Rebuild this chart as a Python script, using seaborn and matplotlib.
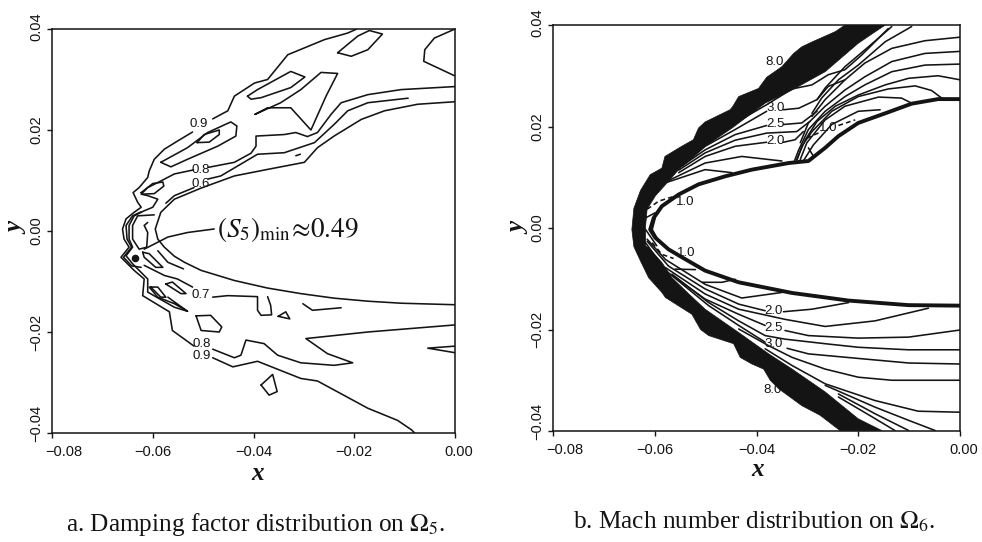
import numpy as np
import matplotlib
matplotlib.use("Agg")
import matplotlib.pyplot as plt
from matplotlib.transforms import ScaledTranslation
import seaborn as sns

# all contour values below are (x, y) in units of 1e-3
# ---------- panel a: damping factor ----------
a_body = [(0,25.6),(-7.4,25.1),(-14,23.8),(-18.6,22.1),(-24,18.8),(-27.3,16.5),(-29.9,13.6),(-37.2,12.2),(-43.8,10.9),(-50.4,8.5),(-55.7,6.3),(-58.4,3.7),(-59.5,0.4),(-59,-1.6),(-57.7,-3.2),(-55.7,-5),(-53.7,-6.2),(-50.4,-7.8),(-43.8,-9.8),(-37.2,-11.3),(-30.6,-12.4),(-24,-13.3),(-17.3,-13.9),(-10.7,-14.3),(0,-14.6)]
a_09_top = [(-48.1,22.2),(-45.1,23.8),(-43.8,26.7),(-39.8,29.3),(-37.2,30),(-33.2,34.9),(-25.9,37.9),(-21.3,39.2),(-19.5,40)]
a_09_left = [(-52.1,19.6),(-55.1,17.8),(-57.7,16.2),(-59.7,14.2),(-60.7,11.9),(-61,10.6),(-62.7,8.6),(-63.9,7.6),(-63,5.7),(-62.3,4.7),(-63.7,3.7),(-65.3,2.4),(-66,0.4),(-65.7,-1.6),(-64.7,-3.2),(-66.3,-5.2),(-63.7,-7.8),(-61.7,-9.5),(-62,-12.8),(-56.7,-16),(-56.1,-19.7),(-51.8,-22.8)]
a_09_low = [(-48.1,-25.1),(-44.1,-26.9),(-39.2,-25.8),(-30.6,-29.2),(-27.3,-29.7),(-17.3,-35.1),(-11.4,-37.5),(-8.6,-39.4),(-8,-40)]
a_08_low = [(-48.1,-23.4),(-43.8,-25.1),(-42.5,-24.6),(-41.5,-21.6),(-37.9,-22.3),(-35.2,-24.6),(-30.6,-26.1),(-24,-26.6),(-20.3,-26.1),(-25.3,-24.3),(-29.6,-21.3),(-17.3,-20),(0,-18.6)]
a_08_top = [(-49,12.6),(-43.8,13.6),(-40.5,15.4),(-39.5,16.8),(-39.5,18.8),(-33.9,19.1),(-31.6,19.5),(-29.3,18.7),(-27.3,19.5),(-24.6,23.1),(-22.6,25.4),(-17.3,27),(-10.7,28),(0,28.6)]
a_08_left = [(-51.9,12.1),(-55.7,11.3),(-58.4,9.9),(-61,8.6),(-62.3,7.3),(-61,7),(-59,6.3),(-60,4.7),(-61.7,4),(-63.7,3),(-64.7,1.1),(-64.7,-1.6),(-64,-3.2),(-65.3,-4.9),(-64,-6.5),(-61,-9.5),(-61,-12.1),(-55.7,-15.1),(-53.1,-15.9)]
a_nose = [(-62.3,3.8),(-64,3),(-65.3,1.1),(-65.1,-1.6),(-64.2,-3.2),(-65.8,-5.2),(-64.2,-6.9),(-62.3,-7.2)]
a_07_nose = [(-59.7,3.2),(-63,3),(-64,1.1),(-64,-1.6),(-62.7,-3.6),(-61.2,-3.2),(-61,-0.3),(-61.7,1.1),(-61,1.7)]
a_06_right = [(-9.3,26.3),(-17.3,25.4),(-21.3,23.8),(-24,21.1),(-27.9,17.5),(-33.9,15.5),(-39.2,15.2),(-46.5,10.9),(-49,10.3)]
a_06_left = [(-51.8,8.6),(-55.7,7),(-57.4,5.5)]
a_tick = [(-31.6,14.9),(-30.7,15.2)]
a_isl1 = [(-58.4,13.6),(-53.1,16.5),(-49.1,19.5),(-44.5,21.6),(-43.3,20.8),(-43.5,18.8),(-47.1,16.8),(-53.1,14.2),(-56.4,12.7),(-58.4,13.6)]
a_isl2 = [(-51.2,17.5),(-49.8,19.1),(-46.8,20),(-46.8,19.1),(-48.8,17.6),(-51.2,17.5)]
a_isl3 = [(-62.3,7.6),(-60,9.4),(-58,9.7),(-57.8,8.9),(-59.7,7.4),(-62,7.3),(-62.3,7.6)]
a_isl4 = [(-41.2,26.7),(-39.2,28),(-32.6,31.6),(-29.8,30.5),(-32.6,28.4),(-38.5,26.4),(-40.5,26.1),(-41.2,26.7)]
a_isl5 = [(-23.3,35.3),(-19.3,38.6),(-17,39.7),(-14.4,39),(-17.3,35.9),(-20.6,34.6),(-23.3,35.3)]
a_wedge = [(-39.7,23.1),(-34.6,25.4),(-30.6,28),(-26.6,31.4),(-23.3,31.2),(-25.6,26.7),(-28.6,20),(-32.6,24.4),(-37.2,24.4),(-39.7,23.1)]
a_corner = [(0,40),(-4.1,38.2),(-6,35.9),(-6.2,33.6),(0,30.7)]
a_callout = [(-61.7,-3.6),(-57,-1.2),(-53.1,-0.3),(-47.8,0.4)]
a_seg1 = [(-59,-3.9),(-57,-6.2),(-53.9,-7.5)]
a_07_left = [(-61.7,-6.8),(-57.7,-8.8),(-55.1,-9.5),(-52.1,-11.1)]
a_07_right = [(-48.1,-13.1),(-45.1,-12.8),(-39.2,-13),(-39.2,-15.7),(-38.5,-16.7),(-36.4,-16.6),(-36.6,-14.7),(-37.2,-13)]
a_seg2 = [(-30.2,-14.4),(-28.3,-15.7),(-22.6,-15.2)]
a_tri = [(-35.1,-16.9),(-33.6,-16),(-32.8,-17.4),(-35.1,-16.9)]
a_q1 = [(-51.4,-16.8),(-48.5,-16.7),(-46.3,-19),(-46.8,-20),(-50.4,-19.7),(-51.4,-16.8)]
a_q2 = [(-38.5,-30.5),(-36.2,-28.4),(-35.3,-31.8),(-36.9,-32.5),(-38.5,-30.5)]
a_tail = [(0,-22.8),(-5.4,-23.2),(0,-24.1)]
a_s7 = [(-57.4,-10.5),(-56.1,-10.1),(-53.4,-12.4),(-54.4,-12.4),(-57.4,-10.5)]
a_s8 = [(-60.4,-11.1),(-59,-11.1),(-57.4,-13.1),(-58.4,-13.1),(-60.4,-11.1)]
a_s9 = [(-60.7,-11.1),(-59,-13.1),(-55.7,-14.4),(-53.1,-15.9),(-57,-13.1)]
a_blob = [(-62,-4.2),(-60.7,-4.5),(-58,-7.2),(-59.4,-7.2),(-61.7,-5.2),(-62,-4.2)]
a_dot_x, a_dot_y = [-63.6], [-5.3]
a_labels = [("0.9",-50.8,21.1),("0.8",-50.4,12.1),("0.6",-50.4,9.3),("0.7",-50.4,-12.6),("0.8",-50.2,-22.3),("0.9",-50.2,-24.8)]

# ---------- panel b: Mach number ----------
b_body = [(0,25.4),(-4.3,25.4),(-9.5,24.5),(-14.7,22.6),(-20,20.7),(-23.9,18.1),(-26.5,15.8),(-29.8,13.2),(-33.7,12.8),(-40.9,11.5),(-46.1,10.2),(-51.4,8.6),(-55.3,6.6),(-58.6,4.3),(-60.2,2),(-60.9,-0.3),(-59.9,-1.9),(-57.3,-4.2),(-54.6,-5.8),(-50.1,-8.4),(-43.5,-10.7),(-33,-12.8),(-21.9,-14.3),(-10.1,-15.2),(0,-15.3)]
b_band = [(-22.6,40),(-24.5,38.7),(-29,36.7),(-31.1,35.7),(-32.7,34.4),(-35,31.8),(-38,29.7),(-39.6,27.5),(-43.5,25.9),(-44.7,23.9),(-45.2,23.3),(-50.1,20.9),(-51.4,19.7),(-52.4,17.4),(-54.7,16.1),(-58,14.1),(-58.6,11.8),(-60.9,10.5),(-62.8,7.4),(-64.1,3.9),(-64.5,-0.3),(-64.1,-3.7),(-62.8,-6.5),(-61.2,-9.8),(-58.6,-12.7),(-57.9,-13.7),(-52.7,-17),(-51,-20),(-49.4,-21.2),(-44.5,-22.8),(-43.2,-25.5),(-40.9,-26.8),(-38.6,-27.8),(-37.3,-30),(-35.6,-31.7),(-31.1,-35),(-27.5,-36.9),(-23.6,-39.9),(-15.4,-39.9),(-20,-37.6),(-26.5,-32.3),(-33,-27.8),(-37.6,-24.8),(-43.5,-20.6),(-50.1,-16),(-53.3,-13),(-56.6,-9.8),(-58.6,-6.8),(-61.2,-3.9),(-61.8,-3.5),(-61.8,0.4),(-61.5,3.7),(-59.9,6.3),(-57.3,9.2),(-54.7,12.2),(-50.1,16.1),(-44.8,19.7),(-38.3,24.6),(-33,27.2),(-26.5,30.8),(-20,36.4),(-14.7,40)]
b_r1 = [(0,37.6),(-6.9,36.9),(-13.4,35.4),(-18.7,32.5),(-22.6,29.2),(-26.5,25.3),(-29.1,22)]
b_r2 = [(0,34.8),(-6.9,34.4),(-13.4,32.8),(-18.7,29.8),(-22.6,27.2),(-26.5,24),(-29.8,20.7),(-31.4,16.8)]
b_r3 = [(0,32.3),(-6.9,32.1),(-13.4,30.8),(-18.7,28.2),(-22.6,25.9),(-26.5,23),(-29.8,19.4),(-31.7,15.4),(-32.7,12.8)]
b_r4 = [(0,29.2),(-4.3,30),(-10.1,29.5),(-14.7,28.2),(-20,26.2),(-24.5,24),(-28.1,21),(-30.4,17.4),(-32.1,13.5)]
b_r5 = [(-3.6,25.6),(-5.6,27.1),(-8.8,28),(-14.1,27.4),(-20,25.9),(-25.2,23),(-29.1,19),(-31.1,16.1),(-32.1,13.2)]
b_r6 = [(-9.5,24.6),(-11.5,25.6),(-16,25.8),(-22.6,24),(-26.5,21.3),(-30.1,16.8),(-31.4,13.5)]
b_r7 = [(-15.7,23.3),(-20,23),(-25.2,20.4),(-28.8,16.4),(-30.8,13.2)]
b_r8 = [(-28.8,14.1),(-29.8,15.8)]
b_t1 = [(-9.5,39.7),(-14.7,36.7),(-20,32.1),(-23.9,29.2),(-27.2,25.6),(-29.1,22.6)]
b_t2 = [(-13.4,39.7),(-18,35.7),(-22.6,31.8),(-26.5,27.6),(-28.1,25.3)]
b_l20a = [(-57.6,9.2),(-50.1,12.8),(-42.9,14.1),(-35,13.2)]
b_l20b = [(-57.6,9),(-50.1,11.5),(-44.8,10.9)]
b_l20_left = [(-55.3,10.9),(-50.1,14.1),(-44.2,16.1),(-38,16.9)]
b_l20_right = [(-34.7,16.9),(-32.4,17.4),(-30.8,19)]
b_l22 = [(-55.3,11.4),(-50.1,14.8),(-44.2,17.3),(-38,18.7),(-32.1,19),(-29.5,21)]
b_l25_left = [(-55.3,11.8),(-50.1,15.4),(-44.2,18.4),(-38,20.2)]
b_l25_right = [(-34.7,20.4),(-31.1,20.7),(-28.1,23)]
b_l30_left = [(-54.6,12.2),(-50.1,16.1),(-44.2,19.4),(-38,23)]
b_l30_right = [(-34.7,23.3),(-31.7,23.6),(-28.1,25.3),(-25.9,27.9),(-22.6,29.2)]
b_l35 = [(-44.2,20.7),(-38,24.3),(-33,27.4),(-29.1,28.2),(-25.9,30.2),(-22.6,31.2),(-19.3,34.1),(-14.1,39.3)]
b_n1 = [(-61.8,2),(-59.9,3)]
b_n2 = [(-61.8,-0.3),(-60.5,-2.2),(-59.6,-3.5)]
b_n3 = [(-59.9,2),(-60.5,-0.3),(-59.2,-2.6)]
b_d20_left = [(-61.5,-2.6),(-57.3,-7.5),(-50.1,-12),(-43.5,-15),(-38.3,-16.3)]
b_d20_right = [(-34.7,-16.5),(-29.1,-16),(-21.9,-14.7)]
b_d1 = [(-61.5,-2.2),(-57.9,-6.2),(-50.1,-11.1),(-42.9,-13.8),(-35,-12.7)]
b_d2 = [(-50.7,-10.7),(-46.8,-10.7),(-44.2,-10.1)]
b_d3 = [(-56,-8.1),(-52,-8.2)]
b_da = [(-57.9,-7.8),(-50.1,-13),(-43.5,-16),(-34.4,-18),(-26.5,-19.4),(-16.7,-18.3),(-6.2,-15.8)]
b_d25_left = [(-61.8,-2.9),(-57.9,-8.4),(-50.1,-14),(-43.5,-17),(-38.3,-19.2)]
b_d25_right = [(-34.4,-20.2),(-29.8,-21.2),(-20,-21.7),(-10.1,-21.5),(0,-20.1)]
b_db = [(-56.6,-9.1),(-49.4,-14.7),(-43.5,-18.3),(-38.3,-21.2),(-34.4,-21.9),(-26.5,-22.8),(-20,-23.5),(-10.1,-24),(0,-24)]
b_d30_left = [(-56.6,-9.4),(-49.4,-15.3),(-43.5,-19.2),(-38.3,-22.5)]
b_d30_right = [(-34,-23.7),(-29.8,-24.8),(-20,-25.7),(-10.1,-26.6),(0,-26.8)]
b_dd = [(-43.5,-19.9),(-37.6,-23.2),(-33,-25.5),(-26.5,-27.8),(-20,-29.4),(-13.4,-30),(0,-30)]
b_de = [(-38.3,-23.8),(-33,-27.1),(-26.5,-30.7),(-16.7,-34),(-8.2,-36.1),(0,-36.3)]
b_df = [(-26.5,-31),(-16.7,-35.3),(-10.1,-37.9),(-4.9,-39.9)]
b_dg = [(-23.9,-32.7),(-16.7,-36.6),(-10.1,-39.9)]
b_dh = [(-23.9,-33.3),(-17.3,-37.2),(-12.8,-39.9)]
b_dash1 = [(-30.1,17.7),(-27.2,19)]
b_dash2 = [(-23.9,20.2),(-20.6,21.3)]
b_dash3 = [(-61.5,3.7),(-59.2,5.3),(-56,6.3)]
b_dash4 = [(-60.5,-2.9),(-58.6,-5.2),(-56.3,-6)]
b_labels = [("1.0",-54,5.2),("8.0",-36.5,32.7),("3.0",-36.3,23.6),("2.5",-36.3,20.4),("2.0",-36.3,17.1),("1.0",-25.9,19.7),("1.0",-53.8,-5.0),("2.0",-36.6,-16.3),("2.5",-36.6,-19.8),("3.0",-36.6,-22.8),("8.0",-36.8,-32)]

x_ticks = [-0.08, -0.06, -0.04, -0.02, 0.00]
y_ticks = [-0.04, -0.02, 0.00, 0.02, 0.04]
tick_fmt = "{:.2f}"
caption_a = r"a. Damping factor distribution on $\Omega_5$."
caption_b = r"b. Mach number distribution on $\Omega_6$."
callout_text = r"$(S_5)_{\mathrm{min}}\!\approx\!0.49$"

sns.set_theme(style="ticks")
plt.rcParams["font.family"] = ["Liberation Sans", "DejaVu Sans"]
plt.rcParams["mathtext.fontset"] = "stix"
INK = "#141414"
SERIF = "Liberation Serif"


def curve(ax, pts, lw=1.15, ls="-"):
    xy = np.array(pts, dtype=float) * 1e-3
    sns.lineplot(x=xy[:, 0], y=xy[:, 1], sort=False, estimator=None, color=INK,
                 lw=lw, ls=ls, ax=ax, legend=False, solid_joinstyle="round")


def nudge(label, dx_px, dy_px):
    # dy_px is positive upward; figure dpi is 100
    label.set_transform(label.get_transform() + ScaledTranslation(dx_px / 100, dy_px / 100, fig.dpi_scale_trans))


def style(ax, xlab_pos, ylab_pos):
    ax.set_xlim(-0.08, 0)
    ax.set_ylim(-0.04, 0.04)
    ax.set_xticks(x_ticks, [tick_fmt.format(v).replace("-", "\u2212") for v in x_ticks])
    ax.set_yticks(y_ticks, [tick_fmt.format(v).replace("-", "\u2212") for v in y_ticks])
    ax.tick_params(axis="both", length=3.5, width=1.0, color=INK, labelcolor=INK, labelsize=10.5)
    ax.tick_params(axis="x", pad=5)
    ax.tick_params(axis="y", pad=3)
    for lab in ax.get_yticklabels():
        lab.set_rotation(90)
        lab.set_va("center")
    xl = ax.get_xticklabels()
    yl = ax.get_yticklabels()
    nudge(xl[0], 12, 0)
    nudge(xl[-1], 4, 0)
    nudge(yl[0], 0, 10)
    nudge(yl[-1], 0, 2)
    for s in ax.spines.values():
        s.set_visible(True)
        s.set_color(INK)
        s.set_linewidth(1.1)
    ax.set_xlabel("x", family=SERIF, style="italic", weight="bold", fontsize=18, color=INK)
    ax.set_ylabel("y", family=SERIF, style="italic", weight="bold", fontsize=18, color=INK)
    ax.xaxis.set_label_coords(*xlab_pos)
    ax.yaxis.set_label_coords(*ylab_pos)
    ax.xaxis.label.set_va("center")
    ax.yaxis.label.set_va("center")


W, H = 982, 542
fig = plt.figure(figsize=(W / 100, H / 100), dpi=100, facecolor="white")
ax_a = fig.add_axes([52 / W, 1 - 433 / H, 403 / W, 404 / H])
ax_b = fig.add_axes([553 / W, 1 - 431 / H, 407 / W, 406 / H])

a_curves = [a_body, a_09_top, a_09_left, a_09_low, a_08_low, a_08_top, a_08_left, a_nose, a_07_nose,
            a_06_right, a_06_left, a_tick, a_isl1, a_isl2, a_isl3, a_isl4, a_isl5, a_wedge, a_corner,
            a_callout, a_seg1, a_07_left, a_07_right, a_seg2, a_tri, a_q1, a_q2, a_tail, a_s7, a_s8, a_s9, a_blob]
for c in a_curves:
    curve(ax_a, c)
sns.scatterplot(x=np.array(a_dot_x) * 1e-3, y=np.array(a_dot_y) * 1e-3, s=30, color=INK, ax=ax_a, legend=False, linewidth=0)
for t, x, y in a_labels:
    ax_a.text(x * 1e-3, y * 1e-3, t, ha="center", va="center", fontsize=9.5, color=INK)
ax_a.text(-0.0473, 0.0003, callout_text, ha="left", va="center", fontsize=19.5, color=INK)

band = np.array(b_band) * 1e-3
ax_b.fill(band[:, 0], band[:, 1], color=INK, lw=0.5)
b_curves = [b_r1, b_r2, b_r3, b_r4, b_r5, b_r6, b_r7, b_r8, b_t1, b_t2, b_l20a, b_l20b, b_l20_left, b_l20_right,
            b_l22, b_l25_left, b_l25_right, b_l30_left, b_l30_right, b_l35, b_n1, b_n2, b_n3, b_d20_left,
            b_d20_right, b_d1, b_d2, b_d3, b_da, b_d25_left, b_d25_right, b_db, b_d30_left, b_d30_right,
            b_dd, b_de, b_df, b_dg, b_dh]
for c in b_curves:
    curve(ax_b, c)
for c in [b_dash1, b_dash2, b_dash3, b_dash4]:
    curve(ax_b, c, ls=(0, (3, 2)))
curve(ax_b, b_body, lw=2.8)
for t, x, y in b_labels:
    ax_b.text(x * 1e-3, y * 1e-3, t, ha="center", va="center", fontsize=9.5, color=INK)

style(ax_a, ((258 - 52) / 403, -(473 - 433) / 404), (-(52 - 17) / 403, (433 - 228) / 404))
style(ax_b, ((758 - 553) / 407, -(470 - 431) / 406), (-(553 - 519) / 407, (431 - 228) / 406))

fig.text(256 / W, 1 - 525 / H, caption_a, family=SERIF, fontsize=18.2, ha="center", va="center", color=INK)
fig.text(754 / W, 1 - 522 / H, caption_b, family=SERIF, fontsize=18.2, ha="center", va="center", color=INK)

fig.savefig("out.png", dpi=100, facecolor="white")
